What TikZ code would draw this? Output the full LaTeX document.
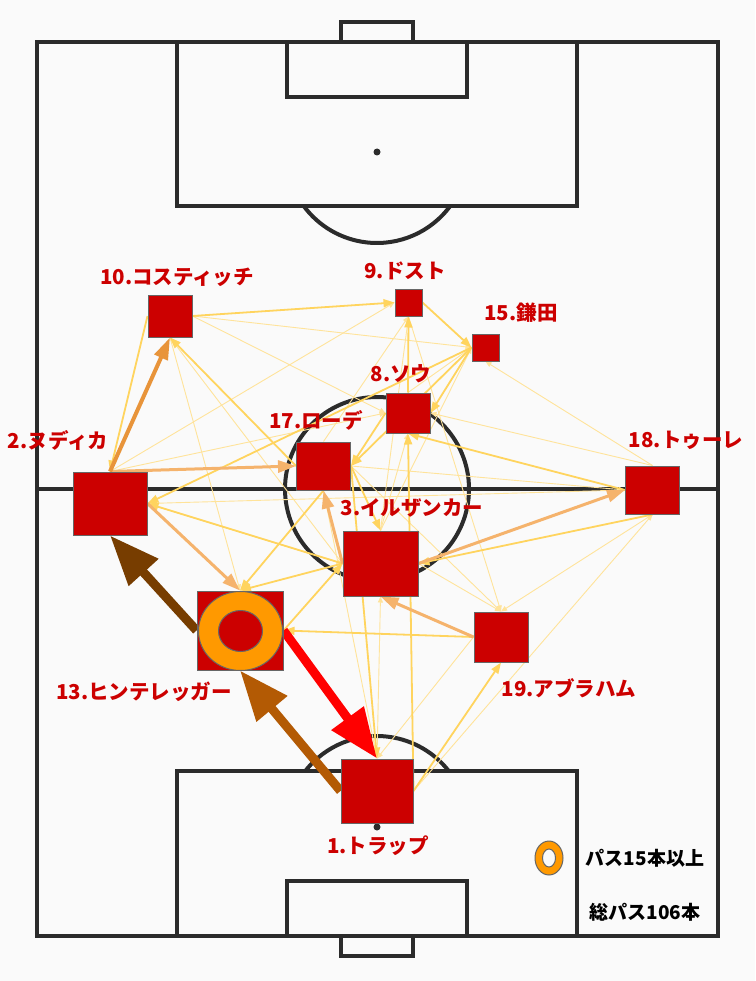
\documentclass[tikz,border=0pt]{standalone}
\usepackage{fontspec}
\setmainfont{Noto Sans CJK JP}
\usetikzlibrary{arrows.meta}

\definecolor{pitchln}{HTML}{2B2B2B}
\definecolor{pitchbg}{HTML}{FAFAFA}
\definecolor{plfill}{HTML}{CC0000}
\definecolor{plline}{HTML}{666666}
\definecolor{ringor}{HTML}{FF9900}
\definecolor{brdark}{HTML}{773D00}
\definecolor{brmid}{HTML}{B35A04}
\definecolor{passor}{HTML}{E8943A}
\definecolor{passlo}{HTML}{F5B36C}
\definecolor{passyl}{HTML}{FFD45E}
\definecolor{passlt}{HTML}{FFE39A}

\pgfdeclarelayer{pitch}
\pgfdeclarelayer{links}
\pgfsetlayers{pitch,links,main}

\begin{document}
\begin{tikzpicture}[x=1pt,y=-1pt]
\tikzset{
	player/.style 2 args={rectangle, draw=plline, line width=1pt, fill=plfill, minimum width=#1, minimum height=#2, inner sep=0pt},
	lbl/.style={text=plfill, font=\bfseries\fontsize{20.5}{20.5}\selectfont, inner sep=0pt},
	keytxt/.style={text=black, font=\bfseries\fontsize{19}{19}\selectfont, inner sep=0pt},
	pline/.style={draw=pitchln, line width=4pt},
	heavy/.style={draw=#1, line width=9pt, -{Triangle[length=50pt,width=38pt]}},
	lnk1/.style={draw=passlt, line width=0.9pt, -{Triangle[length=6pt,width=5pt]}},
	lnk2/.style={draw=passyl, line width=1.8pt, -{Triangle[length=11pt,width=8pt]}},
	lnk3/.style={draw=passlo, line width=3pt, -{Triangle[length=18pt,width=12pt]}},
	lnk4/.style={draw=passor, line width=4pt, -{Triangle[length=22pt,width=14pt]}}
}
\useasboundingbox (0,0) rectangle (755,981);

% pitch
\begin{pgfonlayer}{pitch}
\fill[pitchbg] (0,0) rectangle (755,981);
\draw[pline] (37,42) rectangle (718,936);
\draw[pline] (37,489) -- (718,489);
\draw[pline] (377,489) circle (92);
% top half
\draw[pline] (341,22) rectangle (413,42);
\draw[pline] (177,42) rectangle (577,206);
\draw[pline] (287,42) rectangle (467,97);
\fill[pitchln] (377,152) circle (3.5);
\draw[pline] (450.2,206) arc[start angle=36.4, end angle=143.6, radius=91];
% bottom half
\draw[pline] (341,936) rectangle (413,956);
\draw[pline] (177,771) rectangle (577,936);
\draw[pline] (287,881) rectangle (467,936);
\fill[pitchln] (377,827) circle (3.5);
\draw[pline] (305.3,771) arc[start angle=218, end angle=322, radius=91];
\end{pgfonlayer}

% players
\node[player={44pt}{42pt}] (n10) at (170,316) {};
\node[player={27pt}{27pt}] (n9) at (408.5,302.5) {};
\node[player={27pt}{27pt}] (n15) at (485.5,347.5) {};
\node[player={44pt}{40pt}] (n8) at (408,413) {};
\node[player={54pt}{48pt}] (n17) at (323.5,466) {};
\node[player={74pt}{63pt}] (n2) at (110,503.5) {};
\node[player={54pt}{48pt}] (n18) at (652.5,490) {};
\node[player={75pt}{65pt}] (n3) at (380.5,563.5) {};
\node[player={86pt}{79pt}] (n13) at (240,630.5) {};
\node[player={54pt}{50pt}] (n19) at (501,637) {};
\node[player={72pt}{64pt}] (n1) at (377,791) {};

% 15本以上
\draw[plline, line width=1pt, fill=ringor] (240.5,631) ellipse [x radius=42, y radius=39.5];
\draw[plline, line width=1pt, fill=plfill] (240.5,631) ellipse [x radius=22, y radius=20.5];

\begin{pgfonlayer}{links}
% thin passes
\draw[lnk1] (n10.east) -- (n15.west);
\draw[lnk1] (n10.east) -- (n8.west);
\draw[lnk1] (n10.south) -- (n13.north);
\draw[lnk1] (n3.west) -- (n10.south);
\draw[lnk1] (n2.north) -- (n9.west);
\draw[lnk1] (n2.north) -- (n8.west);
\draw[lnk1] (n3.north) -- (n9.south);
\draw[lnk1] (n17.north) -- (n9.south);
\draw[lnk1] (n8.north) -- (n15.west);
\draw[lnk1] (n3.north) -- (n15.west);
\draw[lnk1] (n18.north) -- (n15.south);
\draw[lnk1] (n18.north) -- (n8.east);
\draw[lnk1] (n3.north) -- (n8.south);
\draw[lnk1] (n18.west) -- (n2.east);
\draw[lnk1] (n2.east) -- (n3.west);
\draw[lnk1] (n17.east) -- (n18.west);
\draw[lnk1] (n1.north) -- (n3.south);
\draw[lnk1] (n17.south) -- (n1.north);
\draw[lnk1] (n19.west) -- (n1.north);
\draw[lnk1] (n1.east) -- (n18.south);
\draw[lnk1] (n18.south) -- (n19.north);
\draw[lnk1] (n9.south) -- (n19.north);
\draw[lnk1] (n3.east) -- (n19.north);
\draw[lnk1] (n17.east) -- (n19.north);

% medium passes
\draw[lnk2] (n10.east) -- (n9.west);
\draw[lnk2] (n9.east) -- (n15.west);
\draw[lnk2] (n8.north) -- (n9.south);
\draw[lnk2] (n18.west) -- (n8.south);
\draw[lnk2] (n17.west) -- (n10.south);
\draw[lnk2] (n10.west) -- (n2.north);
\draw[lnk2] (n18.south) -- (n3.east);
\draw[lnk2] (n3.west) -- (n13.north);
\draw[lnk2] (n17.south) -- (n13.north);
\draw[lnk2] (n19.west) -- (n13.east);
\draw[lnk2] (n1.east) -- (n19.south);
\draw[lnk2] (n15.west) -- (n2.east);
\draw[lnk2] (n8.west) -- (n17.east);
\draw[lnk2] (n15.west) -- (n8.east);
\draw[lnk2] (n15.west) -- (n17.east);
\draw[lnk2] (n1.east) -- (n8.south);
\draw[lnk2] (n17.east) -- (n3.north);
\draw[lnk2] (n3.west) -- (n2.east);
\draw[lnk2] (n13.east) -- (n3.west);
\draw[lnk2] (n17.east) -- (n1.north);

% heavier passes
\draw[lnk3] (n2.north) -- (n17.west);
\draw[lnk3] (n2.east) -- (n13.north);
\draw[lnk3] (n3.west) -- (n17.south);
\draw[lnk3] (n19.west) -- (n3.south);
\draw[lnk3] (n3.east) -- (n18.west);
\draw[lnk4] (n2.north) -- (n10.south);

% top three
\draw[heavy=brdark] (n13.west) -- (n2.south);
\draw[heavy=brmid] (n1.west) -- (n13.south);
\draw[heavy=red] (n13.east) -- (n1.north);
\end{pgfonlayer}

% names
\node[lbl] (l10) at (177,277) {10.コスティッチ};
\node[lbl] (l9) at (405,271) {9.ドスト};
\node[lbl] (l15) at (521,313) {15.鎌田};
\node[lbl] (l8) at (401,374) {8.ソウ};
\node[lbl] (l17) at (316,420) {17.ローデ};
\node[lbl] (l2) at (58,440) {2.ヌディカ};
\node[lbl] (l18) at (686,440) {18.トゥーレ};
\node[lbl] (l3) at (412,508) {3.イルザンカー};
\node[lbl] (l13) at (144,692) {13.ヒンテレッガー};
\node[lbl] (l19) at (569,688) {19.アブラハム};
\node[lbl] (l1) at (378,846) {1.トラップ};

% legend
\draw[plline, line width=1pt, fill=ringor] (549,858) ellipse [x radius=14, y radius=17];
\draw[plline, line width=1pt, fill=pitchbg] (549,858) ellipse [x radius=6.5, y radius=9];
\node[keytxt] (k1) at (645,858) {パス15本以上};
\node[keytxt] (k2) at (645,912) {総パス106本};

\end{tikzpicture}
\end{document}
